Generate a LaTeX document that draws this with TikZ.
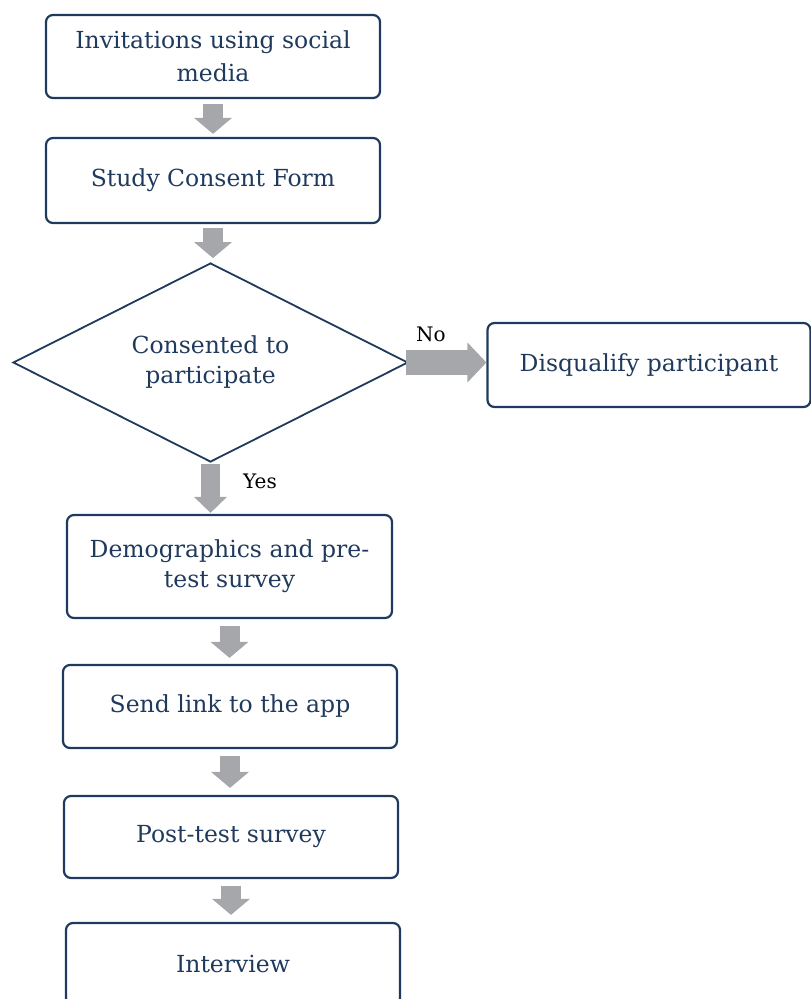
\documentclass[tikz,border=0pt]{standalone}
\usepackage{fontspec}
\setmainfont{DejaVu Serif}
\usetikzlibrary{shapes.geometric,arrows.meta,calc}
\definecolor{navy}{HTML}{1F3A5C}
\definecolor{agray}{HTML}{A6A7AB}
\begin{document}
\begin{tikzpicture}[x=1pt,y=-1pt,
  box/.style={draw=navy, line width=2.2pt, rounded corners=7pt, text=navy, align=center,
    font=\fontsize{23.5}{33}\selectfont, inner sep=0pt},
  decision/.style={draw=navy, line width=1.8pt, diamond, aspect=2, text=navy, align=center,
    font=\fontsize{23.5}{30}\selectfont, inner sep=0pt},
  lbl/.style={text=black, font=\fontsize{20}{24}\selectfont, inner sep=0pt},
  varrow/.style={agray, line width=20pt, -{Triangle[width=37pt,length=16pt]}},
  yarrow/.style={agray, line width=19pt, -{Triangle[width=32pt,length=16pt]}},
  harrow/.style={agray, line width=25pt, -{Triangle[width=39pt,length=19pt]}}
]
\useasboundingbox (0,0) rectangle (811,999);
\node[box, minimum width=334pt, minimum height=83pt] (b1) at (213,56.5) {Invitations using social\\media};
\node[box, minimum width=334pt, minimum height=85pt] (b2) at (213,180.5) {Study Consent Form};
\node[decision, minimum width=395pt, minimum height=199pt] (dec) at (210.5,362.5) {Consented to\\participate};
\node[box, minimum width=323pt, minimum height=84pt] (dq) at (649,365) {Disqualify participant};
\node[box, minimum width=325pt, minimum height=103pt, font=\fontsize{23.5}{30}\selectfont] (b3) at (229.5,566.5) {Demographics and pre-\\test survey};
\node[box, minimum width=334pt, minimum height=83pt] (b4) at (230,706.5) {Send link to the app};
\node[box, minimum width=334pt, minimum height=82pt] (b5) at (231,837) {Post-test survey};
\node[box, minimum width=334pt, minimum height=82pt] (b6) at (233,964) {Interview};
\node[lbl] (no) at (431,334) {No};
\node[lbl] (yes) at (260,481) {Yes};
\draw[varrow, shorten <=5pt, shorten >=3pt] (b1.south) -- (b1.south |- b2.north);
\draw[varrow, shorten <=4pt, shorten >=4pt] (b2.south) -- (b2.south |- dec.north);
\draw[yarrow, shorten <=1pt, shorten >=1pt] (dec.south) -- (dec.south |- b3.north);
\draw[harrow, shorten <=-3pt, shorten >=0pt] (dec.east) -- (dec.east -| dq.west);
\draw[varrow, shorten <=7pt, shorten >=6pt] (b3.south) -- (b3.south |- b4.north);
\draw[varrow, shorten <=7pt, shorten >=7pt] (b4.south) -- (b4.south |- b5.north);
\draw[varrow, shorten <=7pt, shorten >=7pt] (b5.south) -- (b5.south |- b6.north);
\end{tikzpicture}
\end{document}
